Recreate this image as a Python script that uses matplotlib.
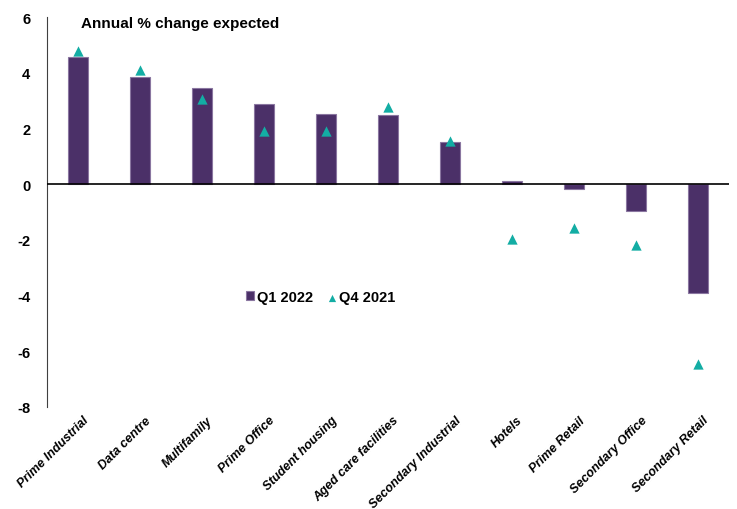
import numpy as np
import matplotlib.pyplot as plt

plt.rcParams['font.family'] = ['Liberation Sans', 'DejaVu Sans']

sectors = ['Prime Industrial', 'Data centre', 'Multifamily', 'Prime Office',
           'Student housing', 'Aged care facilities', 'Secondary Industrial',
           'Hotels', 'Prime Retail', 'Secondary Office', 'Secondary Retail']
q1_2022 = [4.56, 3.84, 3.45, 2.87, 2.51, 2.48, 1.51, 0.11, -0.17, -0.96, -3.90]
q4_2021 = [4.78, 4.10, 3.05, 1.90, 1.90, 2.76, 1.54, -1.97, -1.59, -2.19, -6.45]

bar_color = '#4B3068'
tri_color = '#13ADA4'

fig = plt.figure(figsize=(7.37, 5.10), dpi=100)
ax = fig.add_axes([47 / 737, 1 - 408 / 510, 682 / 737, 390 / 510])

x = np.arange(len(sectors))
bars = ax.bar(x, q1_2022, width=0.31, color=bar_color, edgecolor='#8A76A0',
              linewidth=0.8, label='Q1 2022', zorder=2)
tris = ax.scatter(x, q4_2021, marker='^', s=55, color=tri_color, linewidths=0,
                  label='Q4 2021', zorder=3)

ax.axhline(0, color='black', linewidth=1.2, zorder=4)
ax.set_xlim(-0.5, len(sectors) - 0.5)
ax.set_ylim(-8, 6)
ax.set_yticks(range(-8, 7, 2))
ax.set_yticklabels([str(v) for v in range(-8, 7, 2)], fontweight='bold', fontsize=10.5)
ax.tick_params(axis='y', length=0, pad=12)

ax.set_xticks(x)
ax.set_xticklabels([])
ax.tick_params(axis='x', length=0)
for xi, name in zip(x, sectors):
    ax.text(xi + 0.08, -8.25, name, rotation=45, ha='right', va='top',
            rotation_mode='anchor', fontsize=9, fontstyle='italic',
            fontweight='bold', color='black')

for side in ['top', 'right', 'bottom']:
    ax.spines[side].set_visible(False)
ax.spines['left'].set_linewidth(0.8)
ax.spines['left'].set_color('#404040')

ax.text(0.05, 6.05, 'Annual % change expected', fontsize=11, fontweight='bold',
        va='top', ha='left')

ax.legend(handles=[bars, tris], labels=['Q1 2022', 'Q4 2021'],
          loc='center left', bbox_to_anchor=(192 / 682, 1 - (298 - 18) / 390),
          ncol=2, frameon=False, prop={'weight': 'bold', 'size': 10.5},
          handlelength=0.55, handleheight=0.55, handletextpad=0.2,
          columnspacing=1.0, markerscale=0.7, borderpad=0)

fig.savefig('out.png', dpi=100)
